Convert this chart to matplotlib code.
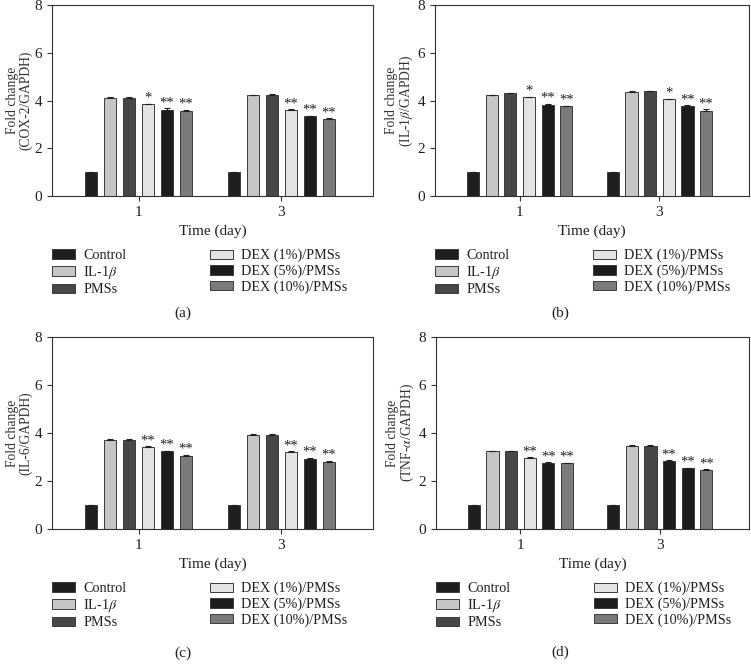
import matplotlib
matplotlib.use("Agg")
import matplotlib.pyplot as plt
import numpy as np

plt.rcParams['font.family'] = ['Liberation Serif', 'DejaVu Serif']
plt.rcParams['mathtext.fontset'] = 'stix'

days = ["1", "3"]
groups = ["Control", "IL-1$\\beta$", "PMSs", "DEX (1%)/PMSs", "DEX (5%)/PMSs", "DEX (10%)/PMSs"]
group_colors = ["#211e1f", "#c6c6c6", "#474747", "#e3e3e3", "#1c1c1c", "#7b7b7b"]

# values[group] = [day1, day3]
cox2 = [[1.00, 1.02], [4.09, 4.23], [4.09, 4.23], [3.84, 3.62], [3.62, 3.34], [3.57, 3.24]]
cox2_err = [[0.0, 0.0], [0.05, 0.02], [0.05, 0.05], [0.03, 0.02], [0.05, 0.02], [0.03, 0.02]]
cox2_sig = [["", ""], ["", ""], ["", ""], ["*", "**"], ["**", "**"], ["**", "**"]]

il1b = [[1.00, 1.00], [4.23, 4.37], [4.30, 4.38], [4.13, 4.06], [3.83, 3.77], [3.76, 3.58]]
il1b_err = [[0.0, 0.0], [0.02, 0.02], [0.02, 0.03], [0.02, 0.02], [0.03, 0.03], [0.03, 0.05]]
il1b_sig = [["", ""], ["", ""], ["", ""], ["*", "*"], ["**", "**"], ["**", "**"]]

il6 = [[1.00, 1.00], [3.71, 3.93], [3.71, 3.93], [3.42, 3.22], [3.24, 2.92], [3.05, 2.81]]
il6_err = [[0.0, 0.0], [0.03, 0.02], [0.03, 0.03], [0.03, 0.02], [0.03, 0.05], [0.03, 0.03]]
il6_sig = [["", ""], ["", ""], ["", ""], ["**", "**"], ["**", "**"], ["**", "**"]]

tnfa = [[1.02, 1.00], [3.24, 3.46], [3.24, 3.46], [2.95, 2.83], [2.76, 2.54], [2.73, 2.46]]
tnfa_err = [[0.0, 0.0], [0.02, 0.02], [0.02, 0.02], [0.03, 0.03], [0.02, 0.02], [0.04, 0.03]]
tnfa_sig = [["", ""], ["", ""], ["", ""], ["**", "**"], ["**", "**"], ["**", "**"]]

ylabels = ["Fold change\n(COX-2/GAPDH)", "Fold change\n(IL-1$\\beta$/GAPDH)",
           "Fold change\n(IL-6/GAPDH)", "Fold change\n(TNF-$\\alpha$/GAPDH)"]
captions = ["(a)", "(b)", "(c)", "(d)"]
yticks = [0, 2, 4, 6, 8]

panels = [(cox2, cox2_err, cox2_sig), (il1b, il1b_err, il1b_sig),
          (il6, il6_err, il6_sig), (tnfa, tnfa_err, tnfa_sig)]

W, H = 751, 664
fig = plt.figure(figsize=(W / 100, H / 100), dpi=100)

# axes boxes in pixels: left, top, right, bottom
boxes = [(52, 5, 373, 196), (435, 5, 749, 196), (52, 337, 373, 529), (436, 337, 749, 529)]
caption_pos = [(183, 313), (560, 313), (183, 653), (560, 652)]

txt = "#231f20"
spacing = 0.1333
width = 0.087
x = np.arange(len(days))

for p, ((vals, errs, sigs), box) in enumerate(zip(panels, boxes)):
    l, t, r, b = box
    ax = fig.add_axes([l / W, 1 - b / H, (r - l) / W, (b - t) / H])
    handles = []
    for i, g in enumerate(groups):
        cols = [group_colors[i]] * len(days)
        if p == 3 and i == 3:
            cols[1] = "#1c1c1c"  # as drawn in the original panel (d)
        pos = x + (i - 2.5) * spacing
        bars = ax.bar(pos, vals[i], width, color=cols, edgecolor="#3a3a3a", linewidth=0.7,
                      label=g, zorder=2)
        ax.errorbar(pos, vals[i], yerr=[[0] * len(days), errs[i]], fmt="none",
                    ecolor="#222222", elinewidth=0.8, capsize=2.5, capthick=0.8, zorder=3)
        handles.append(bars)
        for j in range(len(days)):
            if sigs[i][j]:
                ax.text(pos[j], vals[i][j] + errs[i][j] - 0.04, sigs[i][j],
                        ha="center", va="bottom", fontsize=10.5, color=txt)
    ax.set_ylim(0, 8)
    ax.set_xlim(-0.605, 1.64)
    ax.set_yticks(yticks)
    ax.set_xticks(x)
    ax.set_xticklabels(days)
    for s in ax.spines.values():
        s.set_linewidth(0.8)
        s.set_color("#333333")
    ax.tick_params(axis="both", direction="out", length=3.5, width=0.8, color="#333333",
                   labelsize=11, labelcolor=txt)
    ax.set_ylabel(ylabels[p], fontsize=9.8, color="#333333", linespacing=0.95)
    ax.yaxis.set_label_coords(-20 / (r - l), 0.5)
    ax.set_xlabel("Time (day)", fontsize=11, color=txt)
    ax.xaxis.set_label_coords(0.5, -0.15)

    # legends (two columns)
    lx1 = l / W
    lx2 = (l + 158) / W
    ly = 1 - (b + 53) / H
    kw = dict(loc="upper left", frameon=False, fontsize=10.2, handlelength=1.6,
              handleheight=0.65, handletextpad=0.6, labelspacing=0.15, borderpad=0,
              borderaxespad=0, labelcolor=txt)
    fig.legend(handles[:3], groups[:3], bbox_to_anchor=(lx1, ly), **kw)
    fig.legend(handles[3:], groups[3:], bbox_to_anchor=(lx2, ly), **kw)
    cx, cy = caption_pos[p]
    fig.text(cx / W, 1 - cy / H, captions[p], ha="center", va="center", fontsize=11, color=txt)

fig.savefig("out.png", dpi=100)
